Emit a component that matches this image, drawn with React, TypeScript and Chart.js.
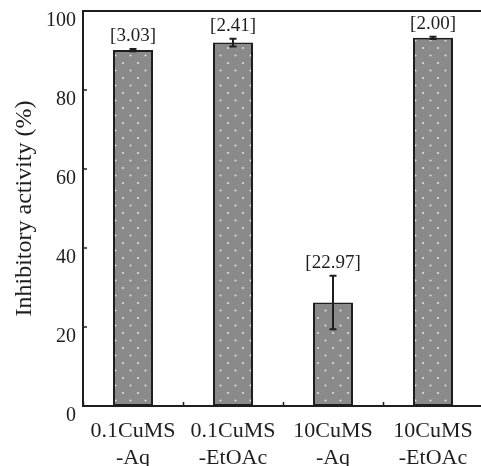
import React, { useEffect, useRef } from "react";
import { Chart, registerables } from "chart.js";

Chart.register(...registerables);

const categories = [["0.1CuMS", "-Aq"], ["0.1CuMS", "-EtOAc"], ["10CuMS", "-Aq"], ["10CuMS", "-EtOAc"]];
const values = [90.1, 92.0, 26.2, 93.2];
const errors = [0.3, 1.0, 6.8, 0.3];
const annotations = ["[3.03]", "[2.41]", "[22.97]", "[2.00]"];
const yTicks = [0, 20, 40, 60, 80, 100];

const FONT = "'Liberation Serif', 'DejaVu Serif', serif";
const INK = "#1e1e1e";

function makePattern(): CanvasPattern | string {
  const c = document.createElement("canvas");
  c.width = 15;
  c.height = 15;
  const g = c.getContext("2d");
  if (!g) return "#8a8a8a";
  g.fillStyle = "#8a8a8a";
  g.fillRect(0, 0, 15, 15);
  g.fillStyle = "#e4e4e4";
  g.beginPath();
  g.arc(3, 3, 1, 0, Math.PI * 2);
  g.fill();
  g.beginPath();
  g.arc(10.5, 10.5, 1, 0, Math.PI * 2);
  g.fill();
  const p = g.createPattern(c, "repeat");
  return p || "#8a8a8a";
}

const errorAndLabelPlugin = {
  id: "errorAndLabel",
  afterDatasetsDraw(chart: any) {
    const { ctx, scales } = chart;
    const meta = chart.getDatasetMeta(0);
    const y = scales.y;
    ctx.save();
    meta.data.forEach((bar: any, i: number) => {
      const x = bar.x;
      const top = y.getPixelForValue(values[i] + errors[i]);
      const bot = y.getPixelForValue(values[i] - errors[i]);
      ctx.strokeStyle = INK;
      ctx.lineWidth = 2;
      ctx.beginPath();
      ctx.moveTo(x, top);
      ctx.lineTo(x, bot);
      ctx.moveTo(x - 3.5, top);
      ctx.lineTo(x + 3.5, top);
      ctx.moveTo(x - 3.5, bot);
      ctx.lineTo(x + 3.5, bot);
      ctx.stroke();
      ctx.fillStyle = INK;
      ctx.font = `19px ${FONT}`;
      ctx.textAlign = "center";
      ctx.textBaseline = "middle";
      ctx.fillText(annotations[i], x, top - 13);
    });
    ctx.restore();
  },
};

export default function App() {
  const ref = useRef<HTMLCanvasElement>(null);
  useEffect(() => {
    if (!ref.current) return;
    const pattern = makePattern();
    const chart = new Chart(ref.current, {
      type: "bar",
      data: {
        labels: categories,
        datasets: [
          {
            data: values,
            backgroundColor: pattern as any,
            borderColor: INK,
            borderWidth: 2,
            borderSkipped: false,
            categoryPercentage: 1,
            barPercentage: 0.4,
          },
        ],
      },
      options: {
        responsive: false,
        animation: false,
        layout: { padding: { top: 11, right: 17, left: 0, bottom: 0 } },
        plugins: { legend: { display: false }, tooltip: { enabled: false } },
        scales: {
          x: {
            offset: true,
            grid: {
              display: true,
              offset: true,
              drawOnChartArea: false,
              tickLength: -4,
              tickColor: INK,
              tickWidth: 1.5,
            },
            border: { display: true, color: INK, width: 2 },
            ticks: {
              color: INK,
              padding: 15,
              maxRotation: 0,
              autoSkip: false,
              font: { family: FONT, size: 22, lineHeight: 1.25 },
            },
            afterFit: (s: any) => {
              s.height = 74;
              s.paddingLeft = 0;
              s.paddingRight = 0;
            },
          },
          y: {
            min: 0,
            max: 100,
            afterBuildTicks: (s: any) => {
              s.ticks = yTicks.map((v) => ({ value: v }));
            },
            grid: {
              display: true,
              drawOnChartArea: true,
              tickLength: -4,
              color: (c: any) => (c.tick && c.tick.value === 100 ? INK : "rgba(0,0,0,0)"),
              lineWidth: (c: any) => (c.tick && c.tick.value === 100 ? 2 : 0),
              tickColor: INK,
              tickWidth: 1.5,
            },
            border: { display: true, color: INK, width: 2 },
            ticks: {
              color: INK,
              padding: 11,
              labelOffset: 10,
              font: { family: FONT, size: 20, lineHeight: 1 },
            },
            title: {
              display: true,
              text: "Inhibitory activity (%)",
              color: INK,
              font: { family: FONT, size: 24, lineHeight: 1.2 },
              padding: { top: 10, bottom: 0 },
            },
            afterFit: (s: any) => {
              s.width = 83;
              s.paddingTop = 0;
              s.paddingBottom = 0;
            },
          },
        },
      },
      plugins: [errorAndLabelPlugin],
    });
    return () => chart.destroy();
  }, []);

  return (
    <div
      style={{
        position: "fixed",
        left: 0,
        top: 0,
        width: 481,
        height: 466,
        overflow: "hidden",
        background: "#fff",
      }}
    >
      <canvas ref={ref} width={500} height={480} style={{ display: "block" }} />
    </div>
  );
}
